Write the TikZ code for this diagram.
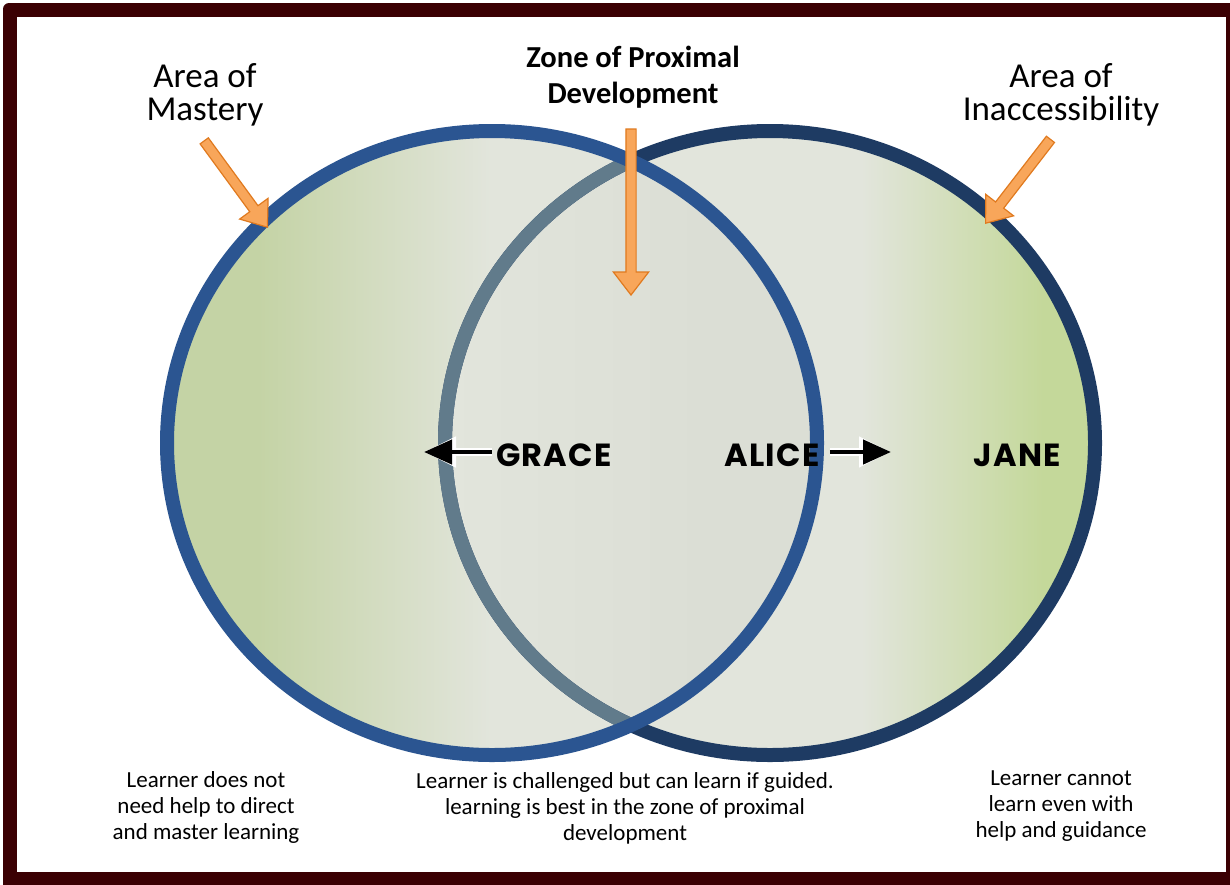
\documentclass[tikz,border=0pt]{standalone}
\usepackage{fontspec}
\setmainfont{Carlito}
\newfontfamily\namefont{Poppins}
\usetikzlibrary{shapes.arrows,arrows.meta}

\definecolor{framered}{HTML}{3B0003}
\definecolor{leftring}{HTML}{2B5591}
\definecolor{rightring}{HTML}{1E3B63}
\definecolor{fadering}{HTML}{617B8B}
\definecolor{leftgreen}{HTML}{C4D3A5}
\definecolor{paleback}{HTML}{E2E5DC}
\definecolor{zonegrey}{HTML}{DBDED5}
\definecolor{rightgreen}{HTML}{C4D89A}
\definecolor{arrowfill}{HTML}{F8A65A}
\definecolor{arrowline}{HTML}{E07A1F}

\pgfdeclarehorizontalshading{masteryfill}{100bp}{color(0bp)=(leftgreen); color(25bp)=(leftgreen); color(32bp)=(leftgreen); color(50bp)=(paleback); color(100bp)=(paleback)}
\pgfdeclarehorizontalshading{zonefill}{100bp}{color(0bp)=(paleback); color(25bp)=(paleback); color(45bp)=(zonegrey); color(100bp)=(zonegrey)}
\pgfdeclarehorizontalshading{outerfill}{100bp}{color(0bp)=(paleback); color(25bp)=(paleback); color(57bp)=(paleback); color(71bp)=(rightgreen); color(100bp)=(rightgreen)}

\begin{document}
\begin{tikzpicture}[x=1pt,y=-1pt]
		\tikzset{ring/.style={line width=14pt}}
		\tikzset{toptext/.style={align=center,inner sep=0pt,anchor=north,font=\fontsize{35}{33}\selectfont}}
		\tikzset{notetext/.style={align=center,inner sep=0pt,anchor=north,font=\fontsize{23}{26}\selectfont}}
		\tikzset{learner/.style={inner sep=0pt,anchor=base,font=\namefont\bfseries\fontsize{32}{32}\selectfont\addfontfeature{LetterSpace=4}}}
		\tikzset{fatarrow/.style={single arrow,draw=arrowline,fill=arrowfill,line width=1.2pt,
		      inner xsep=0pt,inner ysep=4.5pt,single arrow head extend=12.5pt,
		      single arrow tip angle=75,anchor=tip}}
		\tikzset{namearrow/.style={line width=4.5pt,-{Triangle[length=28pt,width=24pt]},
		      preaction={draw=white,line width=7.5pt,-{Triangle[length=32pt,width=29pt]}}}}
		\useasboundingbox (0,0) rectangle (1230,884);

		% frame
		\fill[white] (0,0) rectangle (1230,884);
		\fill[framered,rounded corners=6pt] (3,3) rectangle (1250,900);
		\fill[white] (17,17) rectangle (1226,872);

		% the two areas
		\coordinate (lc) at (492,443);
		\coordinate (rc) at (770,443);
		\shade[shading=outerfill] (rc) ellipse [x radius=325pt,y radius=312pt];
		\shade[shading=masteryfill] (lc) ellipse [x radius=325pt,y radius=312pt];
		\begin{scope}
		   \clip (lc) ellipse [x radius=325pt,y radius=312pt];
		   \shade[shading=zonefill] (rc) ellipse [x radius=325pt,y radius=312pt];
		\end{scope}
		\draw[ring,rightring] (rc) ellipse [x radius=325pt,y radius=312pt];
		\begin{scope}
		   \clip (lc) ellipse [x radius=325pt,y radius=312pt];
		   \draw[ring,fadering] (rc) ellipse [x radius=325pt,y radius=312pt];
		\end{scope}
		\draw[ring,leftring] (lc) ellipse [x radius=325pt,y radius=312pt];

		% headings and their arrows
		\node[toptext] (mastery) at (205,63) {Area of\\Mastery};
		\node[toptext,font=\bfseries\fontsize{30.5}{36}\selectfont] (zpd) at (633,46) {Zone of Proximal\\Development};
		\node[toptext] (inacc) at (1061,63) {Area of\\Inaccessibility};
		\coordinate (mtip) at (268,228);
		\coordinate (ztip) at (631,296);
		\coordinate (itip) at (985,224);
		\node[fatarrow,rotate=-53.8,minimum height=107pt] (marrow) at (mtip) {};
		\node[fatarrow,rotate=-90,minimum height=166pt] (zarrow) at (ztip) {};
		\node[fatarrow,rotate=-127.7,minimum height=106pt] (iarrow) at (itip) {};

		% learners
		\node[learner] (grace) at (554,466) {GRACE};
		\node[learner] (alice) at (772,466) {ALICE};
		\node[learner] (jane) at (1017,466) {JANE};
		\coordinate (gtip) at (424,452);
		\coordinate (atip) at (891,452);
		\draw[namearrow,shorten <=4pt] (grace.west |- gtip) -- (gtip);
		\draw[namearrow,shorten <=10pt] (alice.east |- atip) -- (atip);

		% notes
		\node[notetext] (mnote) at (206,771) {Learner does not\\need help to direct\\and master learning};
		\node[notetext] (znote) at (625,772) {Learner is challenged but can learn if guided.\\learning is best in the zone of proximal\\development};
		\node[notetext] (inote) at (1061,771) {Learner cannot\\learn even with\\help and guidance};
\end{tikzpicture}
\end{document}
